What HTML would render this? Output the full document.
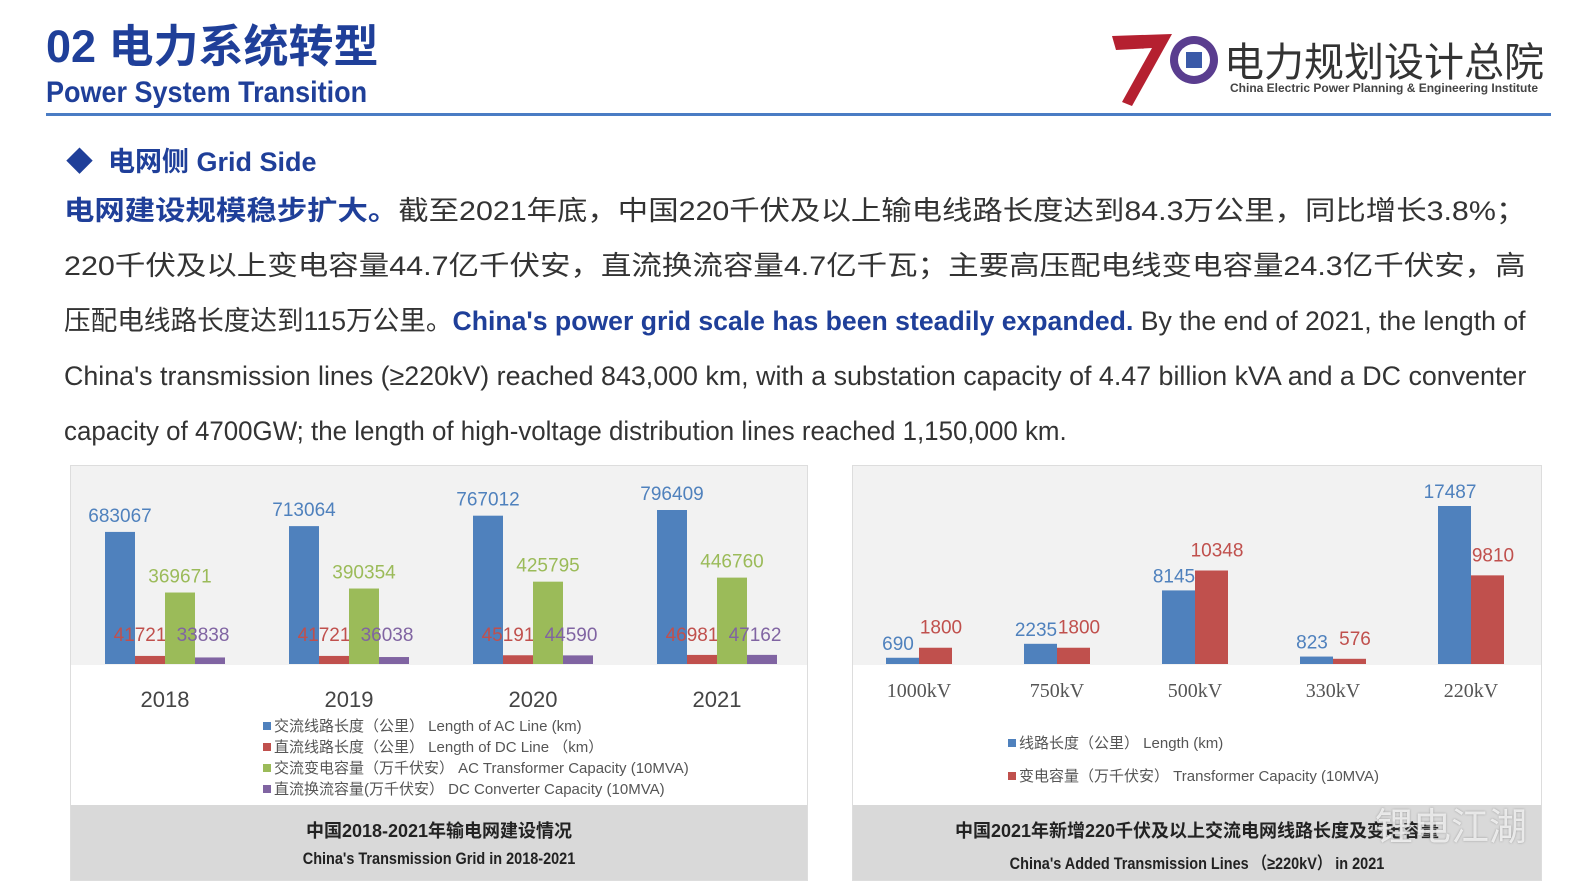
<!DOCTYPE html>
<html><head><meta charset="utf-8"><style>
body{margin:0;width:1587px;height:893px;background:#fff;position:relative;overflow:hidden;font-family:"Liberation Sans","Noto Sans CJK SC",sans-serif}
.a{position:absolute}
.ln{position:absolute;left:64px;font-size:27px;color:#333;line-height:55px;white-space:nowrap;transform-origin:left}
</style></head><body>
<div class="a" style="left:46px;top:10px;font-size:45px;font-weight:bold;color:#1f3f99">02 电力系统转型</div>
<div class="a" style="left:46px;top:76px;font-size:30px;font-weight:bold;color:#1f3f99;transform:scaleX(0.9);transform-origin:left">Power System Transition</div>
<div class="a" style="left:46px;top:113px;width:1505px;height:3px;background:#4a7cc4"></div>
<div class="a" style="left:1110px;top:24px;width:110px;height:84px">
<svg width="110" height="84"><path d="M2 12 L62 10 L22 82 L12 78 L42 24 L6 26Z" fill="#b52030"/><circle cx="84" cy="36" r="24" fill="#5a3d8f"/><circle cx="84" cy="36" r="16" fill="#fff"/><rect x="76" y="28" width="16" height="16" fill="#3b5aa8"/></svg></div>
<div class="a" style="left:1224px;top:30px;font-size:40px;color:#333">电力规划设计总院</div>
<div class="a" style="left:1230px;top:81px;font-size:12px;font-weight:bold;color:#444">China Electric Power Planning &amp; Engineering Institute</div>
<div class="a" style="left:66px;top:140px;font-size:27px;font-weight:bold;color:#1f3f99">◆ &nbsp;电网侧 Grid Side</div>
<div class="ln" data-w="1462" style="top:184px"><b style="color:#1f3f99">电网建设规模稳步扩大。</b>截至2021年底，中国220千伏及以上输电线路长度达到84.3万公里，同比增长3.8%；</div>
<div class="ln" data-w="1462" style="top:239px">220千伏及以上变电容量44.7亿千伏安，直流换流容量4.7亿千瓦；主要高压配电线变电容量24.3亿千伏安，高</div>
<div class="ln" data-w="1462" style="top:294px">压配电线路长度达到115万公里。<b style="color:#1f3f99">China's power grid scale has been steadily expanded.</b> By the end of 2021, the length of</div>
<div class="ln" data-w="1462" style="top:349px">China's transmission lines (≥220kV) reached 843,000 km, with a substation capacity of 4.47 billion kVA and a DC conventer</div>
<div class="ln" data-w="1003" style="top:404px">capacity of 4700GW; the length of high-voltage distribution lines reached 1,150,000 km.</div>

<div class="a" style="left:70px;top:465px;width:736px;height:414px;border:1px solid #ddd;background:#fff">
<div class="a" style="left:0;top:0;width:736px;height:199px;background:#f2f2f2"></div>
<div class="a" style="left:0;top:339px;width:736px;height:75px;background:#d9d9d9;text-align:center;font-weight:bold;color:#222">
<div style="margin-top:12px;font-size:18px">中国2018-2021年输电网建设情况</div><div style="margin-top:6px;font-size:17px;transform:scaleX(0.85)">China's Transmission Grid in 2018-2021</div></div>
</div>
<div class="a" style="left:852px;top:465px;width:688px;height:414px;border:1px solid #ddd;background:#fff">
<div class="a" style="left:0;top:0;width:688px;height:199px;background:#f2f2f2"></div>
<div class="a" style="left:0;top:339px;width:688px;height:75px;background:#d9d9d9;text-align:center;font-weight:bold;color:#222">
<div style="margin-top:12px;font-size:18px">中国2021年新增220千伏及以上交流电网线路长度及变电容量</div><div style="margin-top:6px;font-size:17px;transform:scaleX(0.85)">China's Added Transmission Lines （≥220kV） in 2021</div></div>
</div>
<svg class="a" style="left:0;top:0" width="1587" height="893" id="charts"></svg>
<script>
const years=['2018','2019','2020','2021'];
const acLen=[683067,713064,767012,796409];
const dcLen=[41721,41721,45191,46981];
const acCap=[369671,390354,425795,446760];
const dcCap=[33838,36038,44590,47162];
const kvCats=['1000kV','750kV','500kV','330kV','220kV'];
const lineLen=[690,2235,8145,823,17487];
const transCap=[1800,1800,10348,576,9810];
const NS='http://www.w3.org/2000/svg';
const svg=document.getElementById('charts');
function mk(tag,at,txt){const e=document.createElementNS(NS,tag);for(const k in at)e.setAttribute(k,at[k]);if(txt!==undefined)e.textContent=txt;svg.appendChild(e);return e;}
const base=664;
const ly=v=>base-v*154/796409;
const lcx=i=>165+i*184;
const lseries=[[acLen,'#4f81bd'],[dcLen,'#c0504d'],[acCap,'#9bbb59'],[dcCap,'#8064a2']];
lseries.forEach((s,si)=>{s[0].forEach((v,i)=>{
 const x=lcx(i)-60+si*30;
 const r=mk('rect',{x:x,y:ly(v),width:30,height:base-ly(v),fill:s[1]});
 
 
 let lx=x+15,lyy=ly(v)-10;
 if(si===1){lx=x+5;lyy=641;} if(si===3){lx=x+8;lyy=641;}
 const t=mk('text',{x:lx,y:lyy,'font-size':19,fill:s[1],'text-anchor':'middle','font-family':'Liberation Sans'},String(v));
 
 
});});
years.forEach((y,i)=>{const t=mk('text',{x:lcx(i),y:707,'font-size':22,fill:'#444','text-anchor':'middle','font-family':'Liberation Sans'},y);
 
 });
const lleg=[['#4f81bd','交流线路长度（公里） Length of AC Line (km)'],['#c0504d','直流线路长度（公里） Length of DC Line （km）'],['#9bbb59','交流变电容量（万千伏安） AC Transformer Capacity (10MVA)'],['#8064a2','直流换流容量(万千伏安） DC Converter Capacity (10MVA)']];
lleg.forEach((l,i)=>{const yy=731+i*21;
 const r=mk('rect',{x:263,y:yy-9,width:8,height:8,fill:l[0]});
 
 
 const t=mk('text',{x:274,y:yy,'font-size':15,fill:'#555','font-family':'Liberation Sans, Noto Sans CJK SC, sans-serif'},l[1]);
 
 });
const ry=v=>base-v*158/17487;
const rcx=i=>919+i*138;
[[lineLen,'#4f81bd'],[transCap,'#c0504d']].forEach((s,si)=>{s[0].forEach((v,i)=>{
 const x=rcx(i)-33+si*33;
 const r=mk('rect',{x:x,y:ry(v),width:33,height:base-ry(v),fill:s[1]});
 
 
 const lx=si===0?x+12:x+22;
 const t=mk('text',{x:lx,y:ry(v)-(si===0?8:14),'font-size':19,fill:s[1],'text-anchor':'middle','font-family':'Liberation Sans'},String(v));
 
 
});});
kvCats.forEach((c,i)=>{const t=mk('text',{x:rcx(i),y:697,'font-size':20,fill:'#555','text-anchor':'middle','font-family':'Liberation Serif'},c);
 
 });
[['#4f81bd','线路长度（公里） Length (km)',748],['#c0504d','变电容量（万千伏安） Transformer Capacity (10MVA)',781]].forEach(l=>{
 const r=mk('rect',{x:1008,y:l[2]-9,width:8,height:8,fill:l[0]});
 
 
 const t=mk('text',{x:1019,y:l[2],'font-size':15,fill:'#555','font-family':'Liberation Sans, Noto Sans CJK SC, sans-serif'},l[1]);
 
 });
document.querySelectorAll('.ln').forEach(el=>{const w=el.scrollWidth;const tw=+el.dataset.w;el.style.transform='scaleX('+(tw/w)+')';});
</script>
<div class="a" style="left:1375px;top:796px;font-size:38px;color:rgba(255,255,255,0.75);text-shadow:0 0 2px #999">锂电江湖</div>
</body></html>
